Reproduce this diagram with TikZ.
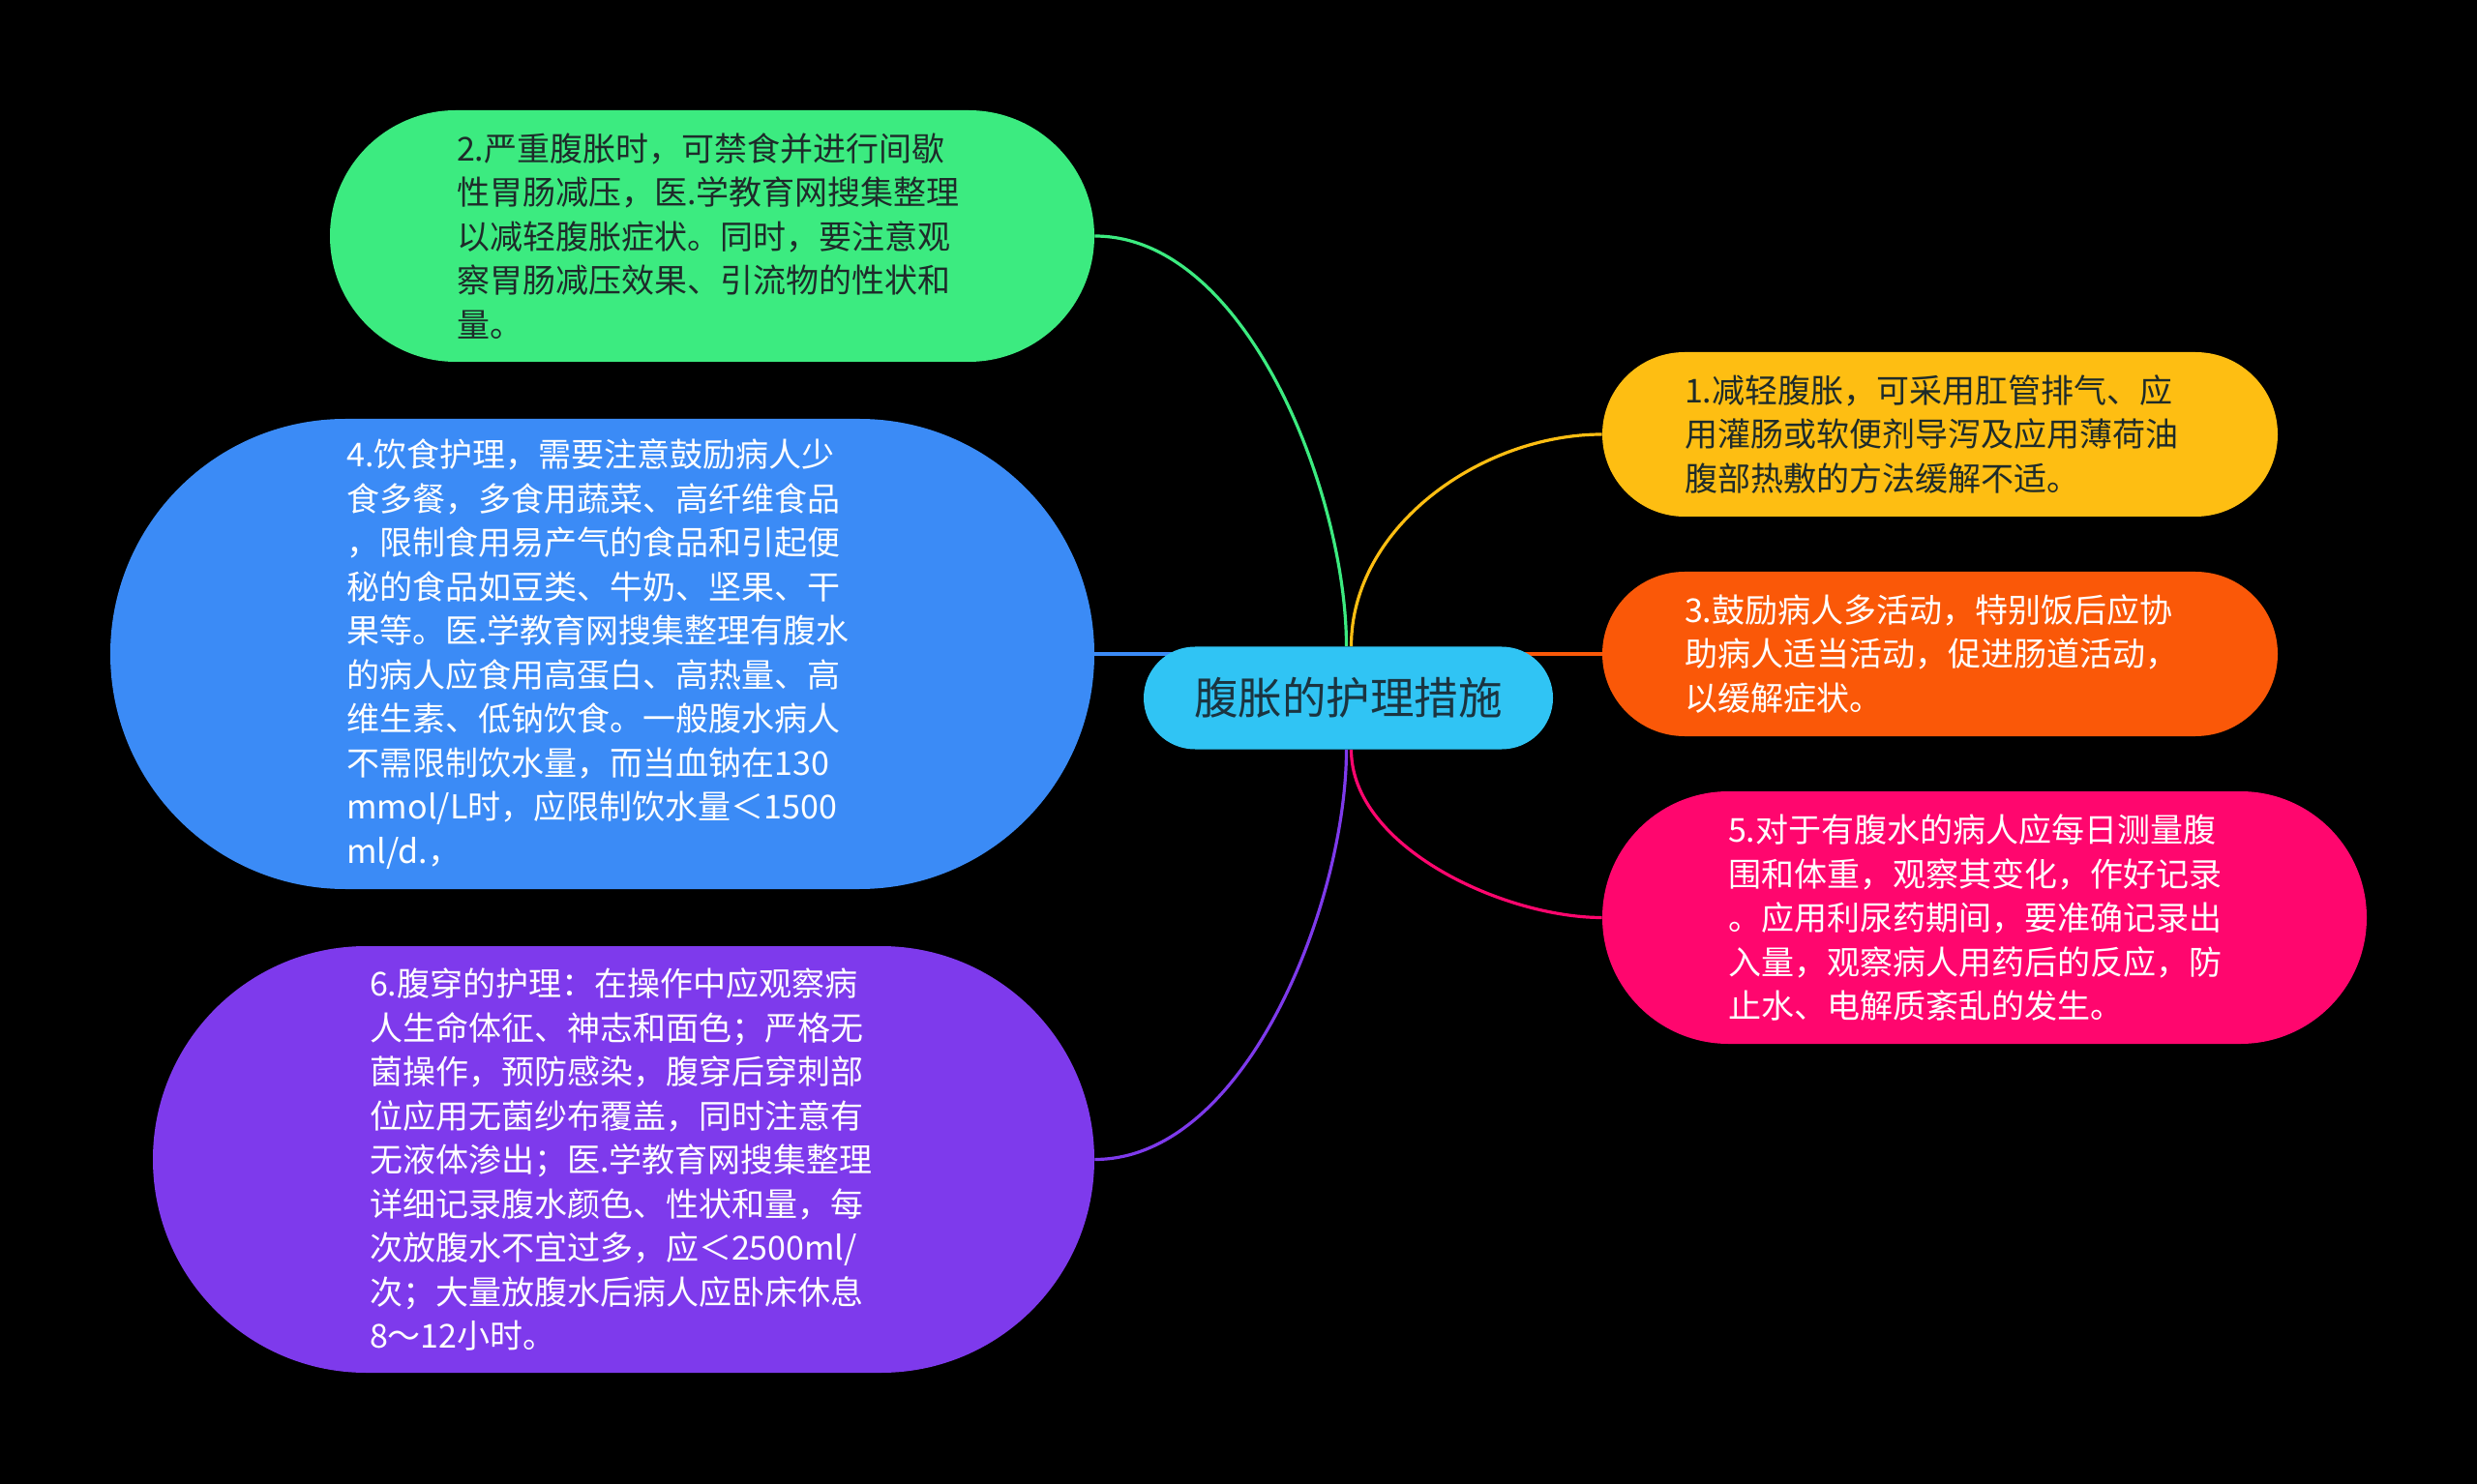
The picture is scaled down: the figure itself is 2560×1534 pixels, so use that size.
\documentclass[tikz,border=0pt]{standalone}
\usepackage{fontspec}
\setmainfont{Noto Sans CJK SC}
\usetikzlibrary{calc}
\pgfdeclarelayer{background}
\pgfsetlayers{background,main}
\definecolor{cgreen}{HTML}{3CEB80}
\definecolor{cblue}{HTML}{3B8BF6}
\definecolor{cpurple}{HTML}{7E3AEC}
\definecolor{ccentral}{HTML}{30C4F4}
\definecolor{cyellow}{HTML}{FEBE12}
\definecolor{corange}{HTML}{FA5808}
\definecolor{cpink}{HTML}{FF066E}
\definecolor{darktext}{HTML}{1E2B2A}
\definecolor{centraltext}{HTML}{1B3440}
\tikzset{
  topic/.style={rectangle, align=left, text width=264pt, inner sep=0pt, text=white,
    font=\fontsize{17}{22.75}\selectfont},
  link/.style={line width=1.6pt},
}
\begin{document}
\begin{tikzpicture}[x=0.5pt,y=-0.5pt]
\useasboundingbox (0,0) rectangle (2560,1534);
\begin{pgfonlayer}{background}
\fill[black] (0,0) rectangle (2560,1534);
\end{pgfonlayer}

\node[rectangle, inner sep=0pt, fill=ccentral, minimum width=211.5pt, minimum height=53pt, rounded corners=26.5pt,
  text=centraltext, font=\fontsize{22.75}{27}\selectfont] (c) at (1393.5,721.5) {腹胀的护理措施};

\node[topic, fill=cgreen, minimum width=395pt, minimum height=130pt, rounded corners=65pt, text=darktext] (g) at (736,244)
{2.严重腹胀时，可禁食并进行间歇\\性胃肠减压，医.学教育网搜集整理\\以减轻腹胀症状。同时，要注意观\\察胃肠减压效果、引流物的性状和\\量。};

\node[topic, fill=cblue, minimum width=508.5pt, minimum height=243pt, rounded corners=121.5pt] (b) at (622.5,676)
{4.饮食护理，需要注意鼓励病人少\\食多餐，多食用蔬菜、高纤维食品\\，限制食用易产气的食品和引起便\\秘的食品如豆类、牛奶、坚果、干\\果等。医.学教育网搜集整理有腹水\\的病人应食用高蛋白、高热量、高\\维生素、低钠饮食。一般腹水病人\\不需限制饮水量，而当血钠在130\\mmol/L时，应限制饮水量＜1500\\ml/d.，};

\node[topic, text width=262.5pt, fill=cpurple, minimum width=486.5pt, minimum height=220.5pt, rounded corners=110.25pt] (p) at (644.5,1198.5)
{6.腹穿的护理：在操作中应观察病\\人生命体征、神志和面色；严格无\\菌操作，预防感染，腹穿后穿刺部\\位应用无菌纱布覆盖，同时注意有\\无液体渗出；医.学教育网搜集整理\\详细记录腹水颜色、性状和量，每\\次放腹水不宜过多，应＜2500ml/\\次；大量放腹水后病人应卧床休息\\8～12小时。};

\node[topic, fill=cyellow, minimum width=349pt, minimum height=85pt, rounded corners=42.5pt, text=darktext] (y) at (2005,449)
{1.减轻腹胀，可采用肛管排气、应\\用灌肠或软便剂导泻及应用薄荷油\\腹部热敷的方法缓解不适。};

\node[topic, fill=corange, minimum width=349pt, minimum height=85pt, rounded corners=42.5pt] (o) at (2005,676)
{3.鼓励病人多活动，特别饭后应协\\助病人适当活动，促进肠道活动，\\以缓解症状。};

\node[topic, text width=265pt, fill=cpink, minimum width=395pt, minimum height=130.5pt, rounded corners=65.25pt] (k) at (2051,948.5)
{5.对于有腹水的病人应每日测量腹\\围和体重，观察其变化，作好记录\\。应用利尿药期间，要准确记录出\\入量，观察病人用药后的反应，防\\止水、电解质紊乱的发生。};

\begin{pgfonlayer}{background}
\draw[link, cgreen] ($(c.north)+(-2,0)$) .. controls ($(c.north)+(-2,-157)$) and ($(g.east)+(157,0)$) .. (g.east);
\draw[link, cyellow] ($(c.north)+(3,0)$) .. controls ($(c.north)+(3,-124)$) and ($(y.west)+(-124,0)$) .. (y.west);
\draw[link, cpink] ($(c.south)+(3,0)$) .. controls ($(c.south)+(3,101)$) and ($(k.west)+(-101,0)$) .. (k.west);
\draw[link, cpurple] ($(c.south)+(-2,0)$) .. controls ($(c.south)+(-2,157)$) and ($(p.east)+(157,0)$) .. (p.east);
\draw[link, cblue] (b.east) -- (b.east -| c.center);
\draw[link, corange] (o.west) -- (o.west -| c.center);
\end{pgfonlayer}
\end{tikzpicture}
\end{document}
